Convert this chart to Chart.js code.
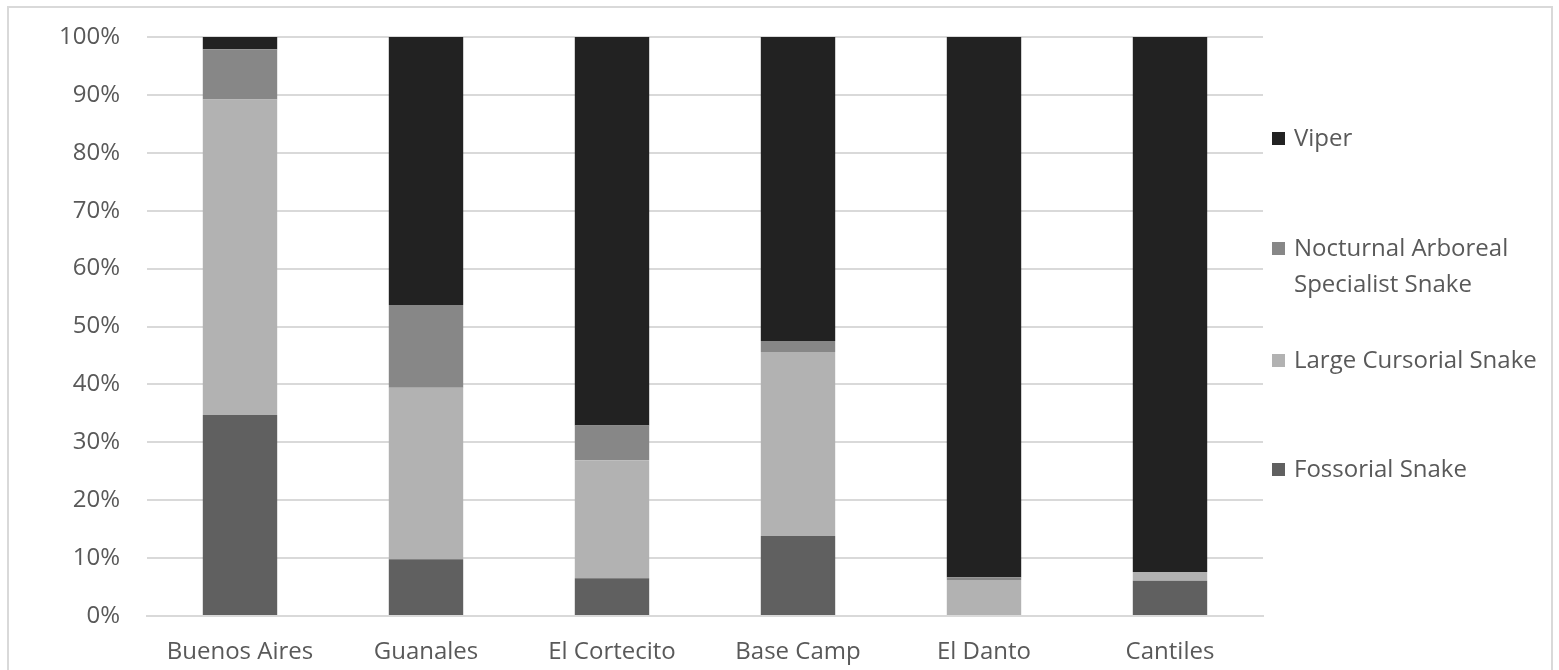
<!DOCTYPE html>
<html>
<head>
<meta charset="utf-8">
<script src="https://cdn.jsdelivr.net/npm/chart.js@4.4.0/dist/chart.umd.min.js"></script>
<style>
  html, body { margin: 0; padding: 0; background: #fff; overflow: hidden; }
  #wrap { position: relative; width: 1559px; height: 670px; }
</style>
</head>
<body>
<div id="wrap"><canvas id="grafico" width="1559" height="670"></canvas></div>
<script>
var sitios = ["Buenos Aires", "Guanales", "El Cortecito", "Base Camp", "El Danto", "Cantiles"];
var fossorial = [34.7, 9.8, 6.5, 13.8, 0, 6.1];
var largeCursorial = [54.5, 29.6, 20.4, 31.8, 6.2, 1.5];
var nocturnal = [8.7, 14.3, 6.0, 1.9, 0.5, 0];
var viper = [2.1, 46.3, 67.1, 52.5, 93.3, 92.4];
var yTicks = [0, 10, 20, 30, 40, 50, 60, 70, 80, 90, 100];

var colores = ["#606060", "#b2b2b2", "#878787", "#222222"];
var txtColor = "#595959";
var fuente = "'Open Sans', 'DejaVu Sans', sans-serif";

// leyenda propia (Excel parte la etiqueta en dos lineas)
var leyenda = [
    { ds: 3, lineas: ["Viper"], y: 138 },
    { ds: 2, lineas: ["Nocturnal Arboreal", "Specialist Snake"], y: 248 },
    { ds: 1, lineas: ["Large Cursorial Snake"], y: 360 },
    { ds: 0, lineas: ["Fossorial Snake"], y: 469 }
];

var marcoYLeyenda = {
    id: 'marcoYLeyenda',
    beforeDraw: function (chart) {
        var ctx = chart.ctx;
        ctx.save();
        ctx.fillStyle = "#fff";
        ctx.fillRect(0, 0, chart.width, chart.height);
        ctx.strokeStyle = "#d9d9d9";
        ctx.lineWidth = 2;
        ctx.strokeRect(8, 7, 1544, 700);
        ctx.restore();
    },
    afterDraw: function (chart) {
        var ctx = chart.ctx;
        ctx.save();
        ctx.font = "24px " + fuente;
        ctx.textBaseline = "middle";
        leyenda.forEach(function (item) {
            var ds = chart.data.datasets[item.ds];
            ctx.fillStyle = ds.backgroundColor;
            ctx.fillRect(1272, item.y - 6, 13, 13);
            ctx.fillStyle = txtColor;
            item.lineas.forEach(function (l, i) {
                ctx.fillText(l, 1294, item.y + 1 + i * 36);
            });
        });
        ctx.restore();
    }
};

var grafico = new Chart(document.getElementById('grafico'), {
    type: 'bar',
    data: {
        labels: sitios,
        datasets: [
            { label: "Fossorial Snake", data: fossorial, backgroundColor: colores[0] },
            { label: "Large Cursorial Snake", data: largeCursorial, backgroundColor: colores[1] },
            { label: "Nocturnal Arboreal Specialist Snake", data: nocturnal, backgroundColor: colores[2] },
            { label: "Viper", data: viper, backgroundColor: colores[3] }
        ]
    },
    options: {
        responsive: false,
        maintainAspectRatio: false,
        animation: false,
        devicePixelRatio: 1,
        layout: { padding: { left: 0, right: 296, top: 37, bottom: 0 } },
        datasets: { bar: { barPercentage: 0.4, categoryPercentage: 1, borderWidth: 0 } },
        plugins: { legend: { display: false }, tooltip: { enabled: false } },
        scales: {
            x: {
                stacked: true,
                grid: { display: false, drawTicks: false },
                border: { color: "#d9d9d9", width: 2 },
                ticks: { color: txtColor, font: { family: fuente, size: 24 }, padding: 22, maxRotation: 0, autoSkip: false },
                afterFit: function (s) { s.height = 54; }
            },
            y: {
                stacked: true,
                min: 0,
                max: 100,
                afterBuildTicks: function (s) { s.ticks = yTicks.map(function (v) { return { value: v }; }); },
                grid: { color: "#d9d9d9", lineWidth: 2, drawTicks: false },
                border: { display: false },
                ticks: {
                    color: txtColor, font: { family: fuente, size: 24 }, padding: 27, autoSkip: false,
                    callback: function (v) { return v + "%"; }
                },
                afterFit: function (s) {
                    s.width = 147;
                    s.paddingTop = 15;
                    s.paddingBottom = 15;
                }
            }
        }
    },
    plugins: [marcoYLeyenda]
});
</script>
</body>
</html>
